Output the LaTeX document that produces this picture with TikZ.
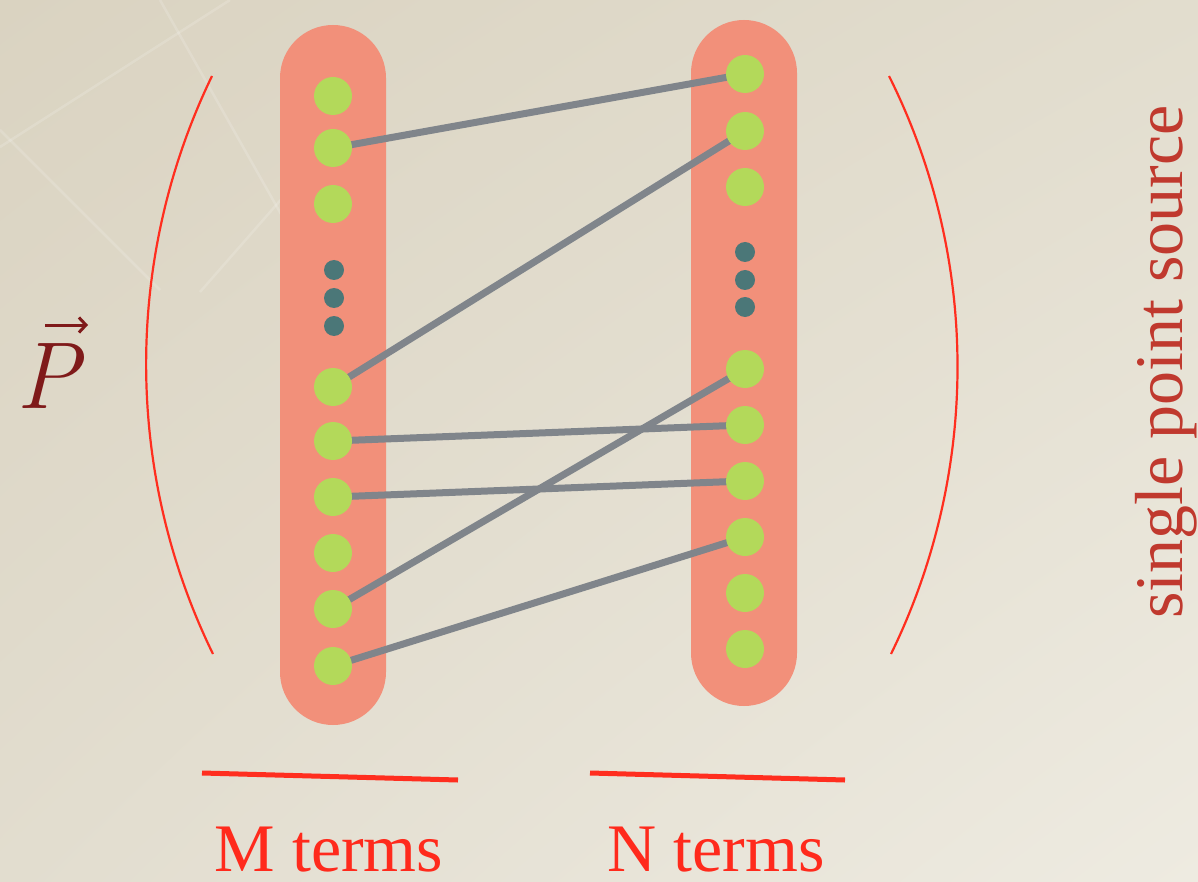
\documentclass[tikz,border=0pt]{standalone}
\usepackage{fontspec}
\setmainfont{Liberation Serif}
\newfontfamily\lmroman{Latin Modern Roman}
\usetikzlibrary{arrows.meta,shadings}

\definecolor{bgA}{RGB}{218,211,193}
\definecolor{bgB}{RGB}{226,221,206}
\definecolor{bgC}{RGB}{226,221,207}
\definecolor{bgD}{RGB}{238,235,225}
\definecolor{salmon}{RGB}{242,144,122}
\definecolor{leaf}{RGB}{179,217,90}
\definecolor{slate}{RGB}{75,119,120}
\definecolor{linkgray}{RGB}{128,133,139}
\definecolor{parenred}{RGB}{255,46,31}
\definecolor{labelred}{RGB}{255,42,28}
\definecolor{srcred}{RGB}{192,57,46}
\definecolor{pred}{RGB}{127,26,26}

\pgfdeclarelayer{bg}
\pgfdeclarelayer{links}
\pgfsetlayers{bg,links,main}

\tikzset{
  bar/.style={fill=salmon, draw=none, rounded corners=53pt},
  dot/.style={circle, fill=leaf, draw=none, minimum size=38pt, inner sep=0pt},
  gapdot/.style={circle, fill=slate, draw=none, minimum size=20pt, inner sep=0pt},
  link/.style={draw=linkgray, line width=7pt},
  paren/.style={draw=parenred, line width=2.2pt},
  underline/.style={draw=parenred, line width=5pt},
  term/.style={text=labelred, font=\fontsize{68}{80}\selectfont, anchor=base, inner sep=0pt},
  crease/.style={draw=white, opacity=0.16, line width=2.5pt},
}

\begin{document}
\begin{tikzpicture}[x=1pt,y=-1pt]
\useasboundingbox (0,0) rectangle (1198,882);

\begin{pgfonlayer}{bg}
  % paper background
  \shade[upper left=bgA, upper right=bgB, lower left=bgC, lower right=bgD]
    (0,0) rectangle (1198,882);
  \draw[crease] (0,147) -- (230,0);
  \draw[crease] (160,0) -- (290,230);
  \draw[crease] (0,130) -- (160,290);
  \draw[crease] (200,292) -- (285,195);
  % the two sums
  \fill[bar] (280,25) rectangle (386,725);
  \fill[bar] (691,20) rectangle (797,706);
\end{pgfonlayer}

% M-side terms
\foreach \yy [count=\i] in {96,148,204,387,441,497,553,609,666}
  \node[dot] (m\i) at (333,\yy) {};
\node[gapdot] (mg1) at (334,270) {};
\node[gapdot] (mg2) at (334,298) {};
\node[gapdot] (mg3) at (334,326) {};

% N-side terms
\foreach \yy [count=\i] in {74,131,187,369,425,481,537,593,649}
  \node[dot] (n\i) at (745,\yy) {};
\node[gapdot] (ng1) at (745,252) {};
\node[gapdot] (ng2) at (745,280) {};
\node[gapdot] (ng3) at (745,307) {};

% pairings
\begin{pgfonlayer}{links}
  \draw[link] (m2.center) -- (n1.center);
  \draw[link] (m4.center) -- (n2.center);
  \draw[link] (m5.center) -- (n5.center);
  \draw[link] (m6.center) -- (n6.center);
  \draw[link] (m8.center) -- (n4.center);
  \draw[link] (m9.center) -- (n7.center);
\end{pgfonlayer}

% brackets
\draw[paren] (212,76) .. controls (124,258) and (124,472) .. (213,654);
\draw[paren] (889,76) .. controls (980,258) and (980,472) .. (891,654);

% underlines and labels
\draw[underline] (202,773) -- (458,780);
\draw[underline] (590,773) -- (845,780);
\node[term] (mlab) at (329,871) {M terms};
\node[term] (nlab) at (716,871) {N terms};

\node[rotate=90, anchor=base, inner sep=0pt, text=srcred,
      font=\fontsize{68}{80}\selectfont] (src) at (1182,362) {single point source};

% momentum vector P with its arrow accent
\node[anchor=base west, inner sep=0pt, text=pred,
      font=\lmroman\itshape\fontsize{95}{100}\selectfont] (pvec) at (16,408) {P};
\draw[pred, line width=3pt, -{Straight Barb[length=7pt,width=15pt]}]
  (45,325) -- (88,325);
\end{tikzpicture}
\end{document}
